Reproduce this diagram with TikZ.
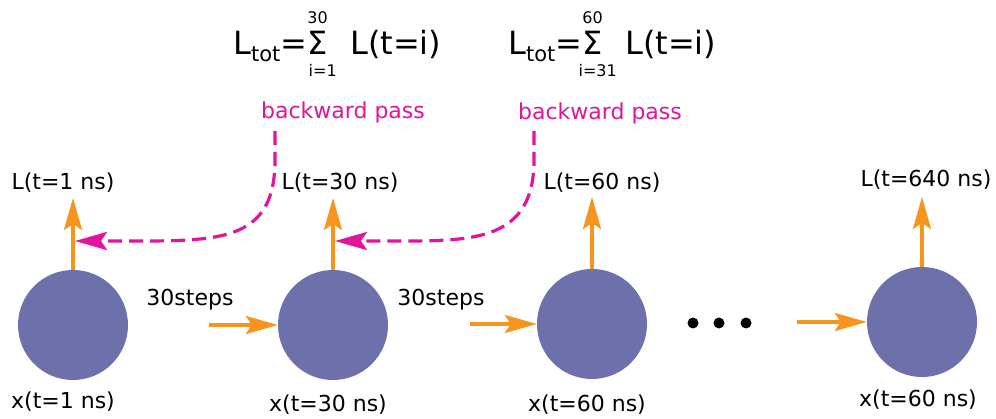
\documentclass[tikz,border=0pt]{standalone}
\usepackage{fontspec}
\setmainfont{DejaVu Sans}
\usetikzlibrary{arrows.meta}
\definecolor{nodeblue}{RGB}{109,112,170}
\definecolor{arroworange}{RGB}{247,148,29}
\definecolor{passmag}{RGB}{224,21,155}
\begin{document}
\begin{tikzpicture}[x=1pt,y=-1pt,
  state/.style={circle,fill=nodeblue,minimum size=110pt,inner sep=0pt},
  lbl/.style={font=\fontsize{22}{24}\selectfont,inner sep=0pt},
  maglbl/.style={lbl,text=passmag},
  fbig/.style={font=\fontsize{32}{34}\selectfont,inner sep=0pt,anchor=base west},
  flim/.style={font=\fontsize{16}{18}\selectfont,inner sep=0pt},
  tip/.style={-{Stealth[length=32pt,width=18pt,inset=6pt]}},
  flow/.style={arroworange,line width=3.2pt,tip},
  back/.style={passmag,line width=3.2pt,dash pattern=on 14pt off 7pt,tip},
  dot/.style={circle,fill=black,minimum size=11pt,inner sep=0pt}]
\useasboundingbox (0,0) rectangle (996,419);
\fill[white] (0,0) rectangle (996,419);

% states
\node[state] (c1) at (73,325) {};
\node[state] (c2) at (333,325) {};
\node[state] (c3) at (592,324) {};
\node[state] (c4) at (922,322) {};

% output labels
\node[lbl] (l1) at (63,183) {L(t=1 ns)};
\node[lbl] (l2) at (340,183) {L(t=30 ns)};
\node[lbl] (l3) at (602,183) {L(t=60 ns)};
\node[lbl] (l4) at (926,180) {L(t=640 ns)};
\coordinate (u1) at (73,198);
\coordinate (u2) at (333,198);
\coordinate (u3) at (592,197);
\coordinate (u4) at (922,197);
\draw[flow] (c1.north) -- (u1);
\draw[flow] (c2.north) -- (u2);
\draw[flow] (c3.north) -- (u3);
\draw[flow] (c4.north) -- (u4);

% state labels
\node[lbl] (x1) at (63,402) {x(t=1 ns)};
\node[lbl] (x2) at (328,405) {x(t=30 ns)};
\node[lbl] (x3) at (587,405) {x(t=60 ns)};
\node[lbl] (x4) at (918,400) {x(t=60 ns)};

% transitions
\node[lbl] (s1) at (190,300) {30steps};
\node[lbl] (s2) at (441,300) {30steps};
\coordinate (h1) at (209,325);
\coordinate (h2) at (470,324);
\coordinate (h3) at (797,322);
\draw[flow] (h1) -- (c2.west);
\draw[flow] (h2) -- (c3.west);
\draw[flow] (h3) -- (c4.west);

% dots
\node[dot] (d1) at (693,323) {};
\node[dot] (d2) at (719,323) {};
\node[dot] (d3) at (746,323) {};

% backward passes
\node[maglbl] (b1) at (343,112) {backward pass};
\node[maglbl] (b2) at (600,113) {backward pass};
\coordinate (g1) at (75,241);
\coordinate (g2) at (335,241);
\draw[back] (275,131) -- (275,160) .. controls (275,238) and (225,241) .. (140,241) -- (g1);
\draw[back] (534,131) -- (534,160) .. controls (534,240) and (475,241) .. (400,241) -- (g2);

% formulas
\node[fbig] (f1a) at (233,55) {L\raisebox{-7pt}{\fontsize{21}{21}\selectfont tot}=};
\node[fbig] (f1s) at (f1a.base east) {Σ};
\node[fbig] (f1b) at ([xshift=22pt]f1s.base east) {L(t=i)};
\node[flim,anchor=south] (f1u) at ([yshift=8pt]f1s.north) {30};
\node[flim,anchor=north] (f1d) at ([xshift=5pt,yshift=-9pt]f1s.south) {i=1};

\node[fbig] (f2a) at (508,55) {L\raisebox{-7pt}{\fontsize{21}{21}\selectfont tot}=};
\node[fbig] (f2s) at (f2a.base east) {Σ};
\node[fbig] (f2b) at ([xshift=22pt]f2s.base east) {L(t=i)};
\node[flim,anchor=south] (f2u) at ([yshift=8pt]f2s.north) {60};
\node[flim,anchor=north] (f2d) at ([xshift=5pt,yshift=-9pt]f2s.south) {i=31};
\end{tikzpicture}
\end{document}
